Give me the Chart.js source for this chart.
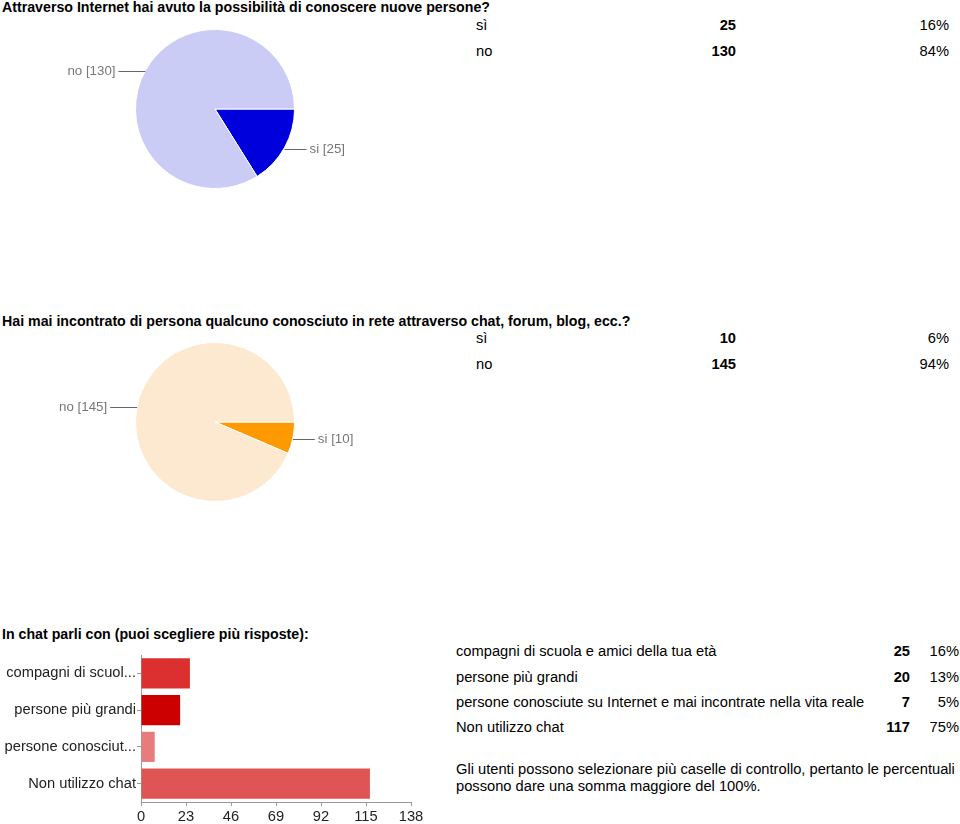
<!DOCTYPE html>
<html>
<head>
<meta charset="utf-8">
<script src="https://cdn.jsdelivr.net/npm/chart.js@4"></script>
<style>
    body { margin: 0; background: #fff; font-family: 'Liberation Sans', Arial, sans-serif; color: #000; }
    #page { position: relative; width: 960px; height: 824px; overflow: hidden; }
    .t { position: absolute; font-size: 14.7px; line-height: 16px; white-space: nowrap; }
    .title { font-weight: bold; left: 2px; font-size: 14.2px; }
    .num { font-weight: bold; text-align: right; }
    .pct { text-align: right; }
    canvas { position: absolute; }
</style>
</head>
<body>
<div id="page">
    <div class="t title" style="top:-1px">Attraverso Internet hai avuto la possibilità di conoscere nuove persone?</div>
    <div id="table1"></div>
    <canvas id="pie1" style="left:0; top:19px; width:430px; height:180px" width="430" height="180"></canvas>

    <div class="t title" style="top:313px">Hai mai incontrato di persona qualcuno conosciuto in rete attraverso chat, forum, blog, ecc.?</div>
    <div id="table2"></div>
    <canvas id="pie2" style="left:0; top:332px; width:430px; height:180px" width="430" height="180"></canvas>

    <div class="t title" style="top:626px">In chat parli con (puoi scegliere più risposte):</div>
    <div id="table3"></div>
    <canvas id="bars" style="left:0; top:640px; width:440px; height:184px" width="440" height="184"></canvas>
    <div class="t" style="left:456px; top:761px">Gli utenti possono selezionare più caselle di controllo, pertanto le percentuali</div>
    <div class="t" style="left:456px; top:778px">possono dare una somma maggiore del 100%.</div>
</div>
<script>
const pie1Labels = ['sì', 'no'];
const pie1Values = [25, 130];
const pie1Pct = ['16%', '84%'];
const pie1Colors = ['#0000dc', '#cbccf6'];

const pie2Labels = ['sì', 'no'];
const pie2Values = [10, 145];
const pie2Pct = ['6%', '94%'];
const pie2Colors = ['#ff9900', '#fde9cf'];

const chatLabels = ['compagni di scuola e amici della tua età', 'persone più grandi',
    'persone conosciute su Internet e mai incontrate nella vita reale', 'Non utilizzo chat'];
const chatShort = ['compagni di scuol...', 'persone più grandi', 'persone conosciut...', 'Non utilizzo chat'];
const chatValues = [25, 20, 7, 117];
const chatPct = ['16%', '13%', '5%', '75%'];
const chatColors = ['#dc3030', '#cc0000', '#e87c7c', '#df5454'];
const chatTicks = [0, 23, 46, 69, 92, 115, 138];

function addRow(box, top, label, labelLeft, value, valueRight, pct, pctRight) {
    box.insertAdjacentHTML('beforeend',
        `<div class="t" style="left:${labelLeft}px; top:${top}px">${label}</div>` +
        `<div class="t num" style="right:${960 - valueRight}px; top:${top}px">${value}</div>` +
        `<div class="t pct" style="right:${960 - pctRight}px; top:${top}px">${pct}</div>`);
}

const t1 = document.getElementById('table1');
pie1Labels.forEach((l, i) => addRow(t1, 17 + i * 26, l, 476, pie1Values[i], 736, pie1Pct[i], 949));
const t2 = document.getElementById('table2');
pie2Labels.forEach((l, i) => addRow(t2, 330 + i * 26, l, 476, pie2Values[i], 736, pie2Pct[i], 949));
const t3 = document.getElementById('table3');
const rowTops = [643, 669, 694, 719];
chatLabels.forEach((l, i) => addRow(t3, rowTops[i], l, 456, chatValues[i], 910, chatPct[i], 959));

Chart.defaults.font.family = "'Liberation Sans', Arial, sans-serif";
Chart.defaults.animation = false;

// leader lines with "label [value]" like the old Google Forms pie
const pieLabels = {
    id: 'pieLabels',
    afterDraw(chart) {
        const ctx = chart.ctx;
        const meta = chart.getDatasetMeta(0);
        const names = chart.data.labels.map((l) => l === 'sì' ? 'si' : l);
        ctx.save();
        ctx.font = '13.3px ' + Chart.defaults.font.family;
        ctx.fillStyle = '#777';
        ctx.strokeStyle = '#666';
        ctx.lineWidth = 1;
        ctx.textBaseline = 'middle';
        meta.data.forEach((arc, i) => {
            const mid = (arc.startAngle + arc.endAngle) / 2;
            const ex = arc.x + Math.cos(mid) * arc.outerRadius;
            const ey = arc.y + Math.sin(mid) * arc.outerRadius;
            const right = Math.cos(mid) >= 0;
            const lx = right ? ex + 22 : ex - 27;
            const y = Math.round(ey) + 1.5;
            ctx.beginPath();
            ctx.moveTo(ex, y);
            ctx.lineTo(lx, y);
            ctx.stroke();
            const text = `${names[i]} [${chart.data.datasets[0].data[i]}]`;
            ctx.textAlign = right ? 'left' : 'right';
            ctx.fillText(text, right ? lx + 3 : lx - 3, y);
        });
        ctx.restore();
    },
};

function makePie(id, labels, values, colors) {
    new Chart(document.getElementById(id), {
        type: 'pie',
        data: {
            labels,
            datasets: [{
                data: values,
                backgroundColor: colors,
                borderColor: '#fff',
                borderWidth: 1,
            }],
        },
        options: {
            responsive: false,
            rotation: 90,
            layout: { padding: { top: 10, bottom: 10 } },
            plugins: { legend: { display: false }, tooltip: { enabled: false } },
        },
        plugins: [pieLabels],
    });
}

makePie('pie1', pie1Labels, pie1Values, pie1Colors);
makePie('pie2', pie2Labels, pie2Values, pie2Colors);

new Chart(document.getElementById('bars'), {
    type: 'bar',
    data: {
        labels: chatShort,
        datasets: [{
            data: chatValues,
            backgroundColor: chatColors,
            categoryPercentage: 0.82,
            barPercentage: 1,
        }],
    },
    options: {
        responsive: false,
        indexAxis: 'y',
        layout: { padding: { top: 15, right: 29, left: 0, bottom: 0 } },
        plugins: { legend: { display: false }, tooltip: { enabled: false } },
        scales: {
            x: {
                min: 0,
                max: 138,
                afterBuildTicks: (scale) => { scale.ticks = chatTicks.map((v) => ({ value: v })); },
                afterFit: (scale) => { scale.height = 22; },
                grid: { drawOnChartArea: false, tickLength: 4, color: '#999' },
                border: { color: '#999' },
                ticks: { color: '#222', font: { size: 14.7 }, padding: 2, maxRotation: 0 },
            },
            y: {
                afterFit: (scale) => { scale.width = 141; },
                grid: { drawOnChartArea: false, tickLength: 4, color: '#999', offset: false },
                border: { color: '#999' },
                ticks: { color: '#222', font: { size: 14.7 }, padding: 1 },
            },
        },
    },
});
</script>
</body>
</html>
